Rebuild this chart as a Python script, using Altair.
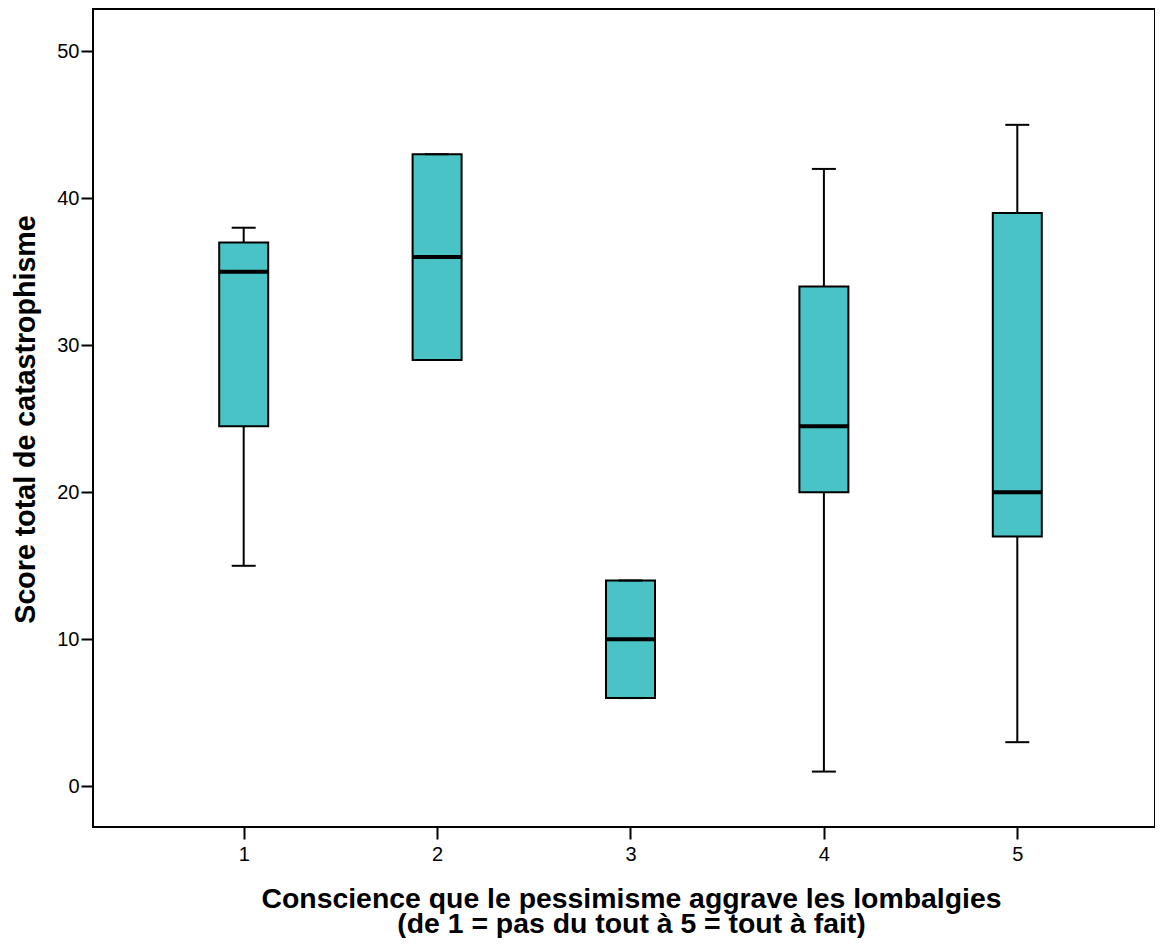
import altair as alt
import pandas as pd

groups = [1, 2, 3, 4, 5]
whisker_low = [15, 29, 6, 1, 3]
q1 = [24.5, 29, 6, 20, 17]
median = [35, 36, 10, 24.5, 20]
q3 = [37, 43, 14, 34, 39]
whisker_high = [38, 43, 14, 42, 45]

df = pd.DataFrame({
    "g": groups, "lo": whisker_low, "q1": q1, "med": median,
    "q3": q3, "hi": whisker_high,
})

FILL = "#4AC3C6"
PLOT_W = 1062
PLOT_H = 818
xs = alt.Scale(domain=[0.2208, 5.712], nice=False, zero=False, padding=0)
ys = alt.Scale(domain=[-2.77, 52.88], nice=False, zero=False, padding=0)

x_axis = alt.Axis(
    values=[1, 2, 3, 4, 5], format="d", grid=False, domain=False,
    tickSize=12, tickWidth=2, tickColor="black", labelFontSize=20,
    labelColor="black", labelPadding=5, labelFont="Liberation Sans",
    title=["Conscience que le pessimisme aggrave les lombalgies",
           "(de 1 = pas du tout à 5 = tout à fait)"],
    titleFont="Liberation Sans", titleFontSize=28.4, titleFontWeight="bold",
    titleColor="black", titleX=538, titleY=80, titleBaseline="alphabetic",
    titleAlign="center", titleLineHeight=25, titleAnchor="start",
)
y_axis = alt.Axis(
    values=[0, 10, 20, 30, 40, 50], format="d", grid=False, domain=False,
    tickSize=12, tickWidth=2, tickColor="black", labelFontSize=20,
    labelColor="black", labelPadding=2, labelFont="Liberation Sans",
    title="Score total de catastrophisme", titleFont="Liberation Sans",
    titleFontSize=28.6, titleFontWeight="bold", titleColor="black",
    titleX=-59, titleY=410, titleAngle=-90, titleBaseline="alphabetic",
    titleAlign="center", titleAnchor="start",
)

base = alt.Chart(df)

lower = base.mark_rule(color="black", strokeWidth=2).encode(
    x=alt.X("g:Q", scale=xs, axis=x_axis),
    y=alt.Y("lo:Q", scale=ys, axis=y_axis),
    y2="q1:Q",
)
upper = base.mark_rule(color="black", strokeWidth=2).encode(
    x=alt.X("g:Q", scale=xs), y=alt.Y("q3:Q", scale=ys), y2="hi:Q",
)
box = base.mark_bar(size=49, fill=FILL, stroke="black", strokeWidth=2,
                    opacity=1).encode(
    x=alt.X("g:Q", scale=xs), y=alt.Y("q1:Q", scale=ys), y2="q3:Q",
)
med = base.mark_tick(orient="horizontal", size=49, thickness=4,
                     color="black", opacity=1).encode(
    x=alt.X("g:Q", scale=xs), y=alt.Y("med:Q", scale=ys),
)
cap_lo = base.mark_tick(orient="horizontal", size=24, thickness=2,
                        color="black", opacity=1).encode(
    x=alt.X("g:Q", scale=xs), y=alt.Y("lo:Q", scale=ys),
)
cap_hi = base.mark_tick(orient="horizontal", size=24, thickness=2,
                        color="black", opacity=1).encode(
    x=alt.X("g:Q", scale=xs), y=alt.Y("hi:Q", scale=ys),
)

chart = alt.layer(lower, upper, box, med, cap_lo, cap_hi).properties(
    width=PLOT_W, height=PLOT_H,
    autosize=alt.AutoSizeParams(type="none"),
    padding={"left": 85, "top": 1, "right": 0, "bottom": 111},
    background="white",
).configure_view(
    stroke="black", strokeWidth=2, fill="white",
)

chart.save("out.html", embed_options={"renderer": "svg", "actions": False})
